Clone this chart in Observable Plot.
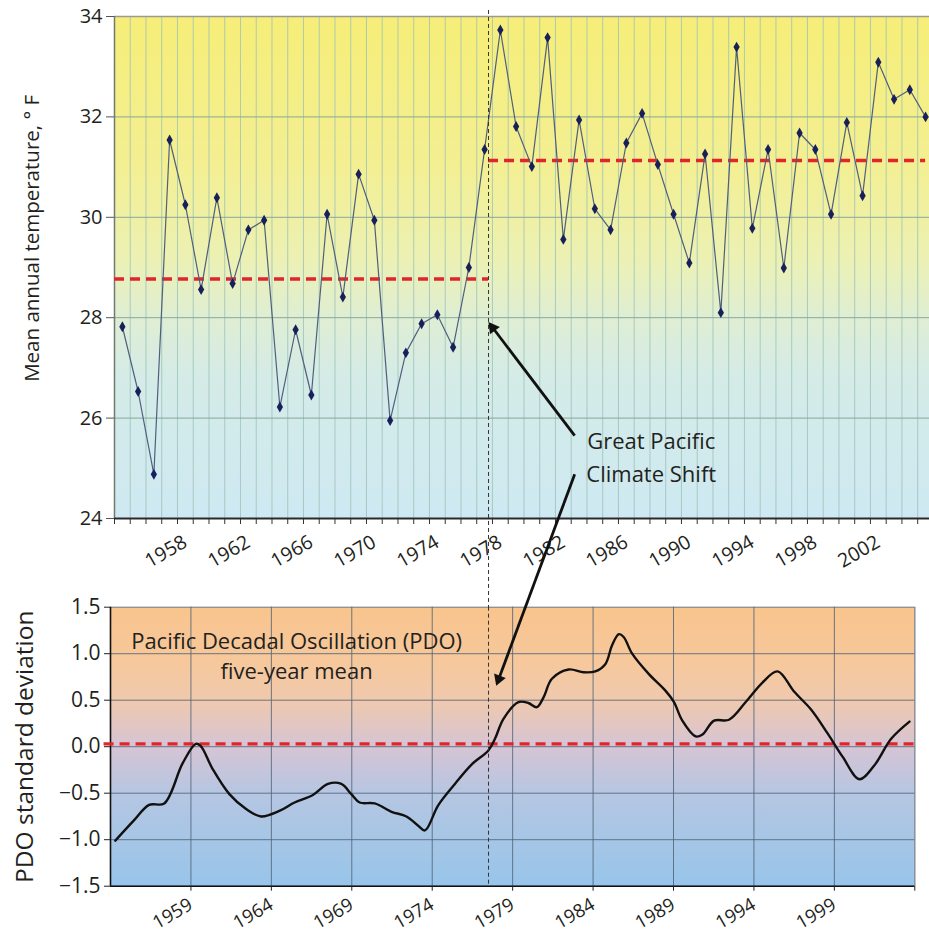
<!DOCTYPE html>
<html><head><meta charset="utf-8">
<script src="https://cdn.jsdelivr.net/npm/d3@7"></script>
<script src="https://cdn.jsdelivr.net/npm/@observablehq/plot@0.6"></script>
<style>
body{margin:0;background:#fff;}
#wrap{position:relative;width:929px;height:934px;overflow:hidden;font-family:"Open Sans",sans-serif;}
#wrap svg{position:absolute;left:0;}
</style></head><body><div id="wrap"></div>
<script>
// ---------- Top panel data: mean annual temperature (°F) ----------
const years = [1954,1955,1956,1957,1958,1959,1960,1961,1962,1963,1964,1965,1966,1967,1968,1969,1970,1971,1972,1973,1974,1975,1976,1977,1978,1979,1980,1981,1982,1983,1984,1985,1986,1987,1988,1989,1990,1991,1992,1993,1994,1995,1996,1997,1998,1999,2000,2001,2002,2003,2004,2005];
const tempF = [27.82,26.53,24.88,31.54,30.25,28.56,30.39,28.68,29.75,29.94,26.22,27.76,26.46,30.06,28.41,30.86,29.94,25.95,27.30,27.88,28.06,27.41,29.00,31.35,33.73,31.81,31.01,33.58,29.56,31.94,30.17,29.75,31.48,32.07,31.05,30.06,29.09,31.26,28.10,33.39,29.78,31.35,28.99,31.68,31.35,30.06,31.89,30.43,33.09,32.35,32.54,32.00];
const topTickLabels = [1958,1962,1966,1970,1974,1978,1982,1986,1990,1994,1998,2002];
const topYTicks = [24,26,28,30,32,34];
// period means (red dashed)
const meanStart = [1953.5, 1977.25];
const meanEnd = [1977.25, 2005];
const meanValue = [28.77, 31.13];
const shiftYearTop = 1977.25;

// ---------- Bottom panel data: PDO five-year mean ----------
const pdoYear = [1954.3,1955.47,1956.4,1957.34,1958.48,1959.3,1959.6,1960.35,1961.39,1962.43,1963.36,1964.5,1965.44,1966.58,1967.52,1968.35,1968.97,1969.49,1970.43,1971.47,1972.4,1973.13,1973.55,1974.37,1975.41,1976.46,1977.49,1977.9,1978.43,1979.36,1979.98,1980.5,1980.92,1981.44,1982.48,1983.41,1984.14,1984.77,1985.18,1985.6,1985.9,1986.43,1987.47,1988.51,1989.03,1989.55,1990.38,1990.8,1991.52,1992.45,1993.49,1994.53,1995.47,1996.51,1997.55,1998.59,1999.52,2000.56,2001.49,2002.53,2003.67];
const pdoValue = [-1.01,-0.79,-0.625,-0.61,-0.18,0.03,0.01,-0.24,-0.51,-0.67,-0.75,-0.69,-0.60,-0.52,-0.40,-0.40,-0.51,-0.60,-0.61,-0.70,-0.75,-0.85,-0.90,-0.63,-0.40,-0.19,-0.04,0.085,0.30,0.48,0.47,0.425,0.53,0.73,0.83,0.80,0.81,0.89,1.09,1.21,1.18,1.00,0.78,0.60,0.48,0.28,0.11,0.13,0.28,0.29,0.48,0.69,0.81,0.59,0.40,0.14,-0.11,-0.35,-0.20,0.085,0.27];
const pdoGridYears = [1959,1964,1969,1974,1979,1984,1989,1994,1999];
const pdoYTicks = [-1.5,-1.0,-0.5,0.0,0.5,1.0,1.5];
const pdoMean = 0.03;
const shiftYearBottom = 1977.5;

// ---------- Annotations (top-panel coordinates) ----------
const arrowTail = [[1982.72, 25.65],[1982.72, 24.88]];
const arrowHead = [[1977.25, 27.91],[1977.74, 20.67]];
const arrowHeadBack = [0.049, 0.031];   // fraction of arrow length from tip to head centre
const arrowHeadRotate = [-37.2, -159.6];
const annotationText = "Great Pacific\nClimate Shift";
const pdoTitle = "Pacific Decadal Oscillation (PDO)\nfive-year mean";

const temps = years.map((y,i)=>({year:y, temp:tempF[i]}));
const bounds = years.map(y=>y-0.5).concat([years[years.length-1]+0.5]).filter(b=>b<2005.25);
const means = meanValue.map((v,i)=>({x1:meanStart[i], x2:meanEnd[i], y:v}));
const pdo = pdoYear.map((y,i)=>({year:y, v:pdoValue[i]}));
const heads = arrowTail.map((t,i)=>{
  const h=arrowHead[i], f=arrowHeadBack[i];
  return {x:h[0]+(t[0]-h[0])*f, y:h[1]+(t[1]-h[1])*f, rot:arrowHeadRotate[i]};
});
const arrows = arrowTail.map((t,i)=>({x1:t[0],y1:t[1],x2:heads[i].x,y2:heads[i].y}));

const font = '"Open Sans", sans-serif';
const txt = "#231f20";

function addGrad(svg, id, stops){
  const ns="http://www.w3.org/2000/svg";
  const defs=document.createElementNS(ns,"defs");
  const lg=document.createElementNS(ns,"linearGradient");
  lg.setAttribute("id",id);lg.setAttribute("x1","0");lg.setAttribute("y1","0");lg.setAttribute("x2","0");lg.setAttribute("y2","1");
  for(const [o,c] of stops){const s=document.createElementNS(ns,"stop");s.setAttribute("offset",o);s.setAttribute("stop-color",c);lg.appendChild(s);}
  defs.appendChild(lg);svg.insertBefore(defs,svg.firstChild);
}

const topPlot = Plot.plot({
  width:929, height:934,
  marginLeft:114, marginRight:0, marginTop:16, marginBottom:416,
  style:{background:"transparent", fontFamily:font, color:txt, overflow:"visible"},
  x:{domain:[1953.5, 2005.25], axis:null},
  y:{domain:[24,34], axis:null},
  marks:[
    Plot.frame({fill:"url(#gTop)", stroke:null}),
    Plot.ruleX(bounds, {stroke:"#9cc2b8", strokeOpacity:0.8, strokeWidth:1}),
    Plot.ruleY(topYTicks.filter(t=>t>24&&t<34), {stroke:"#88a898", strokeWidth:1}),
    Plot.ruleY([34], {stroke:"#9a9a90", strokeWidth:1.5}),
    Plot.ruleX([1953.5], {stroke:"#707a70", strokeWidth:1.5}),
    Plot.axisY({ticks:topYTicks, tickSize:8, tickPadding:4, fontSize:20, stroke:"#555", label:null}),
    Plot.axisX({ticks:bounds, tickSize:6, tickFormat:()=>"", stroke:"#333", label:null}),
    Plot.axisX({ticks:topTickLabels, tickSize:0, tickPadding:22, tickRotate:-30, fontSize:19.5, tickFormat:d=>String(d), label:null}),
    Plot.ruleY([24], {stroke:"#2a2a2a", strokeWidth:2}),
    Plot.ruleY(means, {x1:"x1", x2:"x2", y:"y", stroke:"#e0262b", strokeWidth:3.4, strokeDasharray:"10,6"}),
    Plot.line(temps, {x:"year", y:"temp", stroke:"#4f5f7e", strokeWidth:1.2}),
    Plot.dot(temps, {x:"year", y:"temp", symbol:"diamond", r:3.3, fill:"#17205a", stroke:null}),
    Plot.ruleX([shiftYearTop], {y1:34.12, y2:22.2, stroke:"#333", strokeWidth:1, strokeDasharray:"4,3"}),
    Plot.link(arrows, {x1:"x1", y1:"y1", x2:"x2", y2:"y2", stroke:"#111", strokeWidth:2.8}),
    Plot.dot(heads, {x:"x", y:"y", rotate:"rot", symbol:"triangle", r:4.6, fill:"#111", stroke:null}),
    Plot.text([annotationText], {x:1987.58, y:25.27, fontSize:22, lineHeight:1.5, fill:txt, textAnchor:"middle"}),
    Plot.text(["Mean annual temperature, ° F"], {x:1953.5, y:29.58, rotate:-90, dx:-82, fontSize:20.5, fill:txt})
  ]
});
addGrad(topPlot, "gTop", [[0,"#f6ee78"],[0.3,"#f3ef93"],[0.48,"#ecf1b3"],[0.6,"#dfeed4"],[0.72,"#d4ebe7"],[1,"#cee9f2"]]);

const botPlot = Plot.plot({
  width:929, height:359,
  marginLeft:110, marginRight:14.7, marginTop:31.7, marginBottom:48.3,
  style:{background:"transparent", fontFamily:font, color:txt, overflow:"visible"},
  x:{domain:[1954,2004], axis:null},
  y:{domain:[-1.5,1.5], axis:null},
  marks:[
    Plot.frame({fill:"url(#gBot)", stroke:null}),
    Plot.ruleX(pdoGridYears, {stroke:"#52657a", strokeOpacity:0.85, strokeWidth:1}),
    Plot.ruleX([2004], {stroke:"#8a8f98", strokeWidth:1.5}),
    Plot.ruleY(pdoYTicks, {stroke:"#52657a", strokeOpacity:0.85, strokeWidth:1}),
    Plot.ruleX([1954], {stroke:"#111", strokeWidth:1.6}),
    Plot.ruleY([-1.5], {stroke:"#111", strokeWidth:1.6}),
    Plot.axisY({ticks:pdoYTicks, tickSize:6, tickPadding:4, fontSize:21, tickFormat:d3.format(".1f"), stroke:"#222", label:null}),
    Plot.axisX({ticks:pdoGridYears.concat([2004]), tickSize:5, tickPadding:12, tickRotate:-30, fontSize:18.5, tickFormat:d=>d===2004?"":String(d), stroke:"#222", label:null}),
    Plot.ruleY([pdoMean], {x1:1953.6, x2:2004.15, stroke:"#e0262b", strokeWidth:3.4, strokeDasharray:"10,6"}),
    Plot.line(pdo, {x:"year", y:"v", curve:"catmull-rom", stroke:"#111", strokeWidth:2.4}),
    Plot.ruleX([shiftYearBottom], {y1:1.5, y2:-1.5, stroke:"#333", strokeWidth:1, strokeDasharray:"4,3"}),
    Plot.text([pdoTitle], {x:1965.57, y:0.99, fontSize:22, lineHeight:1.36, fill:txt, textAnchor:"middle"}),
    Plot.text(["PDO standard deviation"], {x:1954, y:0.0, rotate:-90, dx:-85, fontSize:24.5, fill:txt})
  ]
});
addGrad(botPlot, "gBot", [[0,"#f9c48d"],[0.2,"#f6c89c"],[0.33,"#f0c9ad"],[0.5,"#d6c4d4"],[0.67,"#b5c6e2"],[1,"#97c5ea"]]);

const wrap = document.getElementById("wrap");
botPlot.style.top = "575px"; botPlot.style.zIndex = "1";
topPlot.style.top = "0px"; topPlot.style.zIndex = "2";
wrap.appendChild(botPlot);
wrap.appendChild(topPlot);
</script></body></html>
